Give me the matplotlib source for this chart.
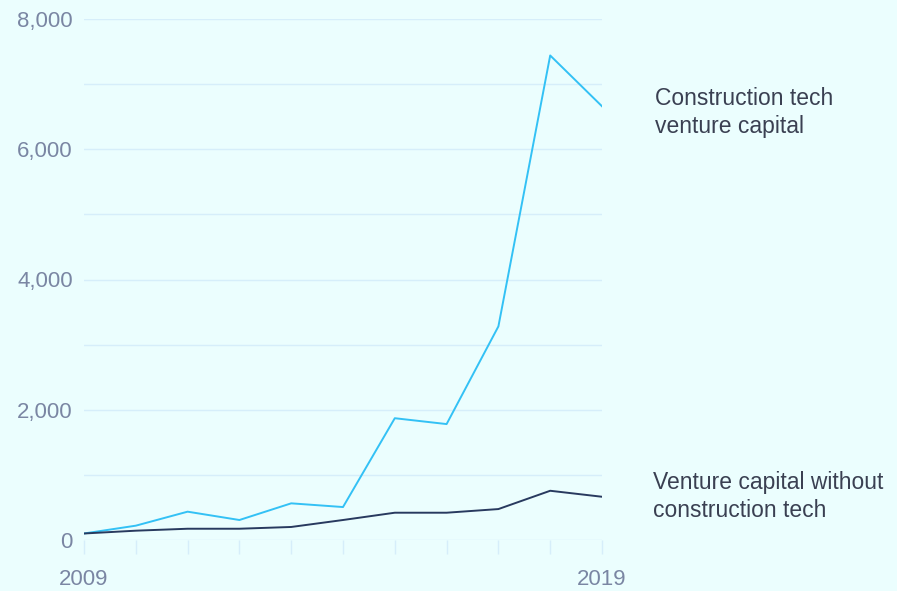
import numpy as np
import matplotlib
matplotlib.use('Agg')
import matplotlib.pyplot as plt

# index values
years = list(range(2009, 2020))
construction_vc = [100, 220, 435, 307, 563, 506, 1870, 1780, 3280, 7440, 6660]
other_vc = [100, 143, 173, 173, 200, 307, 419, 419, 475, 756, 664]

yticks = [0, 2000, 4000, 6000, 8000]
grid_levels = list(range(0, 9000, 1000))
xlabels = {2009: '2009', 2019: '2019'}

bg = '#ebfefe'
grid_col = '#d6eefa'
label_col = '#7a86a3'
text_col = '#3a4052'

plt.rcParams['font.family'] = ['Liberation Sans', 'DejaVu Sans']

fig = plt.figure(figsize=(8.97, 5.91), dpi=100, facecolor=bg)
ax = fig.add_axes([84 / 897, 51 / 591, 518 / 897, 521 / 591])
ax.set_facecolor(bg)

for g in grid_levels:
    ax.axhline(g, color=grid_col, lw=1.0, zorder=1)

ax.plot(years, construction_vc, color='#33c1f5', lw=1.4, zorder=3)
ax.plot(years, other_vc, color='#283a5f', lw=1.4, zorder=3)

ax.set_xlim(2009, 2019)
ax.set_ylim(0, 8000)
for s in ax.spines.values():
    s.set_visible(False)

ax.set_yticks(yticks)
ax.set_yticklabels([f'{v:,}' for v in yticks])
ax.tick_params(axis='y', length=0, pad=8, labelsize=16, labelcolor=label_col)

ax.set_xticks(years)
ax.set_xticklabels([xlabels.get(y, '') for y in years])
ax.tick_params(axis='x', length=10, width=1.0, color=grid_col, pad=11,
               labelsize=16, labelcolor=label_col)

ax.text(1.102, 0.821, 'Construction tech\nventure capital', transform=ax.transAxes,
        fontsize=16.5, color=text_col, va='center', ha='left', linespacing=1.3)
ax.text(1.098, 0.083, 'Venture capital without\nconstruction tech', transform=ax.transAxes,
        fontsize=16.5, color=text_col, va='center', ha='left', linespacing=1.3)

fig.savefig('out.png', dpi=100, facecolor=bg)
